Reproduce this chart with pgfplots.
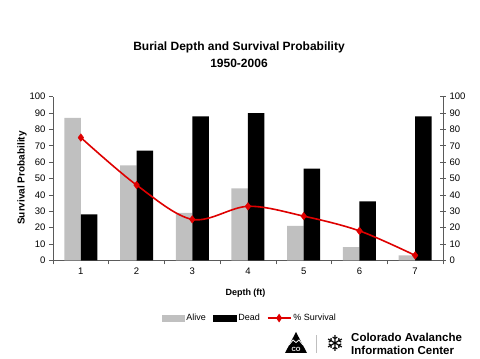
\documentclass[border=0pt]{standalone}
\usepackage{pgfplots}
\pgfplotsset{compat=1.18}
\usepackage{fontspec}
\setmainfont{Liberation Sans}
\newfontfamily\symfont{DejaVu Sans}
\definecolor{alive}{RGB}{192,192,192}
\definecolor{survred}{RGB}{222,0,0}
\definecolor{axisgray}{RGB}{90,90,90}
\begin{document}
\begin{tikzpicture}[x=1pt,y=1pt]
\path[use as bounding box] (0,0) rectangle (480,359);
% titles
\node[font=\fontsize{12}{14}\selectfont\bfseries] at (239,311.7) {Burial Depth and Survival Probability};
\node[font=\fontsize{12}{14}\selectfont\bfseries] at (239,295.7) {1950-2006};
\node[font=\fontsize{10}{12}\selectfont\bfseries, rotate=90] at (22,181) {Survival Probability};
\node[font=\fontsize{9}{11}\selectfont\bfseries] at (245.5,65.7) {Depth (ft)};
\begin{axis}[
  at={(53pt,98.7pt)}, anchor=south west, scale only axis,
  width=390pt, height=163.6pt,
  xmin=0.5, xmax=7.5, ymin=0, ymax=100,
  ybar=0pt, bar width=16.5pt,
  axis x line*=bottom, axis y line*=left,
  axis line style={axisgray, line width=0.6pt},
  xtick={0.5,1.5,...,7.5}, xticklabels={},
  extra x ticks={1,2,3,4,5,6,7},
  extra x tick labels={1,2,3,4,5,6,7},
  extra x tick style={major tick length=0pt},
  ytick={0,10,...,100},
  tick align=outside, major tick length=4pt,
  tick style={axisgray, line width=0.6pt},
  tick label style={font=\fontsize{9.5}{11}\selectfont},
  /pgf/number format/assume math mode=true,
  xticklabel style={yshift=-4pt},
]
\addplot[fill=alive, draw=none] coordinates {(1,87) (2,58) (3,29) (4,44) (5,21) (6,8) (7,3)};
\addplot[fill=black, draw=none] coordinates {(1,28) (2,67) (3,88) (4,90) (5,56) (6,36) (7,88)};
\end{axis}
\begin{axis}[
  at={(53pt,98.7pt)}, anchor=south west, scale only axis,
  width=390pt, height=163.6pt,
  xmin=0.5, xmax=7.5, ymin=0, ymax=100,
  axis x line=none, axis y line*=right,
  axis line style={axisgray, line width=0.6pt},
  ytick={0,10,...,100},
  tick align=center, major tick length=6pt,
  tick style={axisgray, line width=0.6pt},
  tick label style={font=\fontsize{9.5}{11}\selectfont},
  /pgf/number format/assume math mode=true,
  legend columns=3,
  legend style={at={(0.505,-0.353)}, anchor=center, draw=none, fill=none,
    font=\fontsize{9}{11}\selectfont,
    /tikz/every even column/.append style={column sep=5pt}},
]
\addlegendimage{legend image code/.code={\fill[alive] (0pt,-3pt) rectangle (22pt,3pt);}}
\addlegendimage{legend image code/.code={\fill[black] (0pt,-3pt) rectangle (23pt,3pt);}}
\addplot[survred, line width=1.6pt, smooth, tension=0.55, mark=diamond*, mark size=3.8pt,
  mark options={fill=survred, draw=survred, line width=0.4pt},
  legend image code/.code={\draw[survred, line width=1.6pt] (0pt,0pt) -- (23pt,0pt);
    \fill[survred] (11.5pt,3pt) -- (13.5pt,0pt) -- (11.5pt,-3pt) -- (9.5pt,0pt) -- cycle;}]
  coordinates {(1,75) (2,46) (3,25) (4,33) (5,27) (6,18) (7,3)};
\legend{Alive, Dead, \% Survival}
\end{axis}
% logo
\fill[black] (285,6) -- (296,27) -- (307,6) -- cycle;
\draw[white, line width=0.8pt] (289,14) -- (293,19) -- (296,16.5) -- (299,19) -- (303,14);
\node[text=white, font=\fontsize{6}{6}\selectfont\bfseries] at (296,10) {CO};
\draw[gray!50, line width=0.6pt] (316.5,6) -- (316.5,24);
\node[font=\symfont\fontsize{22}{22}\selectfont] at (335,15.7) {❄};
\node[anchor=west, font=\fontsize{11.5}{12}\selectfont\bfseries, inner sep=0pt] at (351,21.7) {Colorado Avalanche};
\node[anchor=west, font=\fontsize{11.5}{12}\selectfont\bfseries, inner sep=0pt] at (351,8.7) {Information Center};
\end{tikzpicture}
\end{document}
